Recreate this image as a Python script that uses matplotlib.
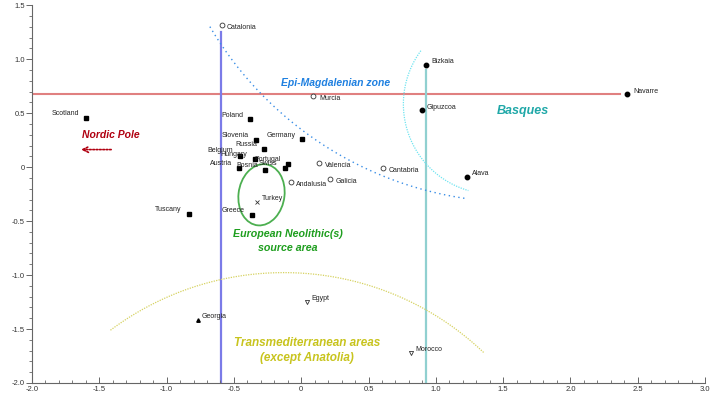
import numpy as np
import matplotlib
matplotlib.use('Agg')
import matplotlib.pyplot as plt
from matplotlib.patches import Ellipse
from matplotlib.ticker import MultipleLocator, FuncFormatter

plt.rcParams['font.family'] = ['Liberation Sans', 'DejaVu Sans']

# populations, by marker group
sq_names = ['Scotland', 'Poland', 'Slovenia', 'Russia', 'Germany', 'Belgium', 'Hungary',
            'Portugal', 'Austria', 'Bosnia', 'Swiss', 'Greece', 'Tuscany']
sq_x = [-1.60, -0.377, -0.338, -0.273, 0.007, -0.453, -0.347, -0.099, -0.461, -0.270, -0.123, -0.369, -0.837]
sq_y = [0.46, 0.444, 0.253, 0.172, 0.259, 0.107, 0.077, 0.033, -0.006, -0.022, -0.009, -0.439, -0.435]

iber_names = ['Catalonia', 'Murcia', 'Valencia', 'Andalusia', 'Galicia', 'Cantabria']
iber_x = [-0.592, 0.091, 0.134, -0.077, 0.213, 0.611]
iber_y = [1.318, 0.663, 0.040, -0.136, -0.111, -0.009]

basq_names = ['Bizkaia', 'Gipuzcoa', 'Navarre', 'Alava']
basq_x = [0.929, 0.894, 2.424, 1.231]
basq_y = [0.95, 0.531, 0.676, -0.087]

turkey = (-0.325, -0.324)
georgia = (-0.768, -1.414)
down_names = ['Egypt', 'Morocco']
down_x = [0.045, 0.817]
down_y = [-1.25, -1.722]

fig = plt.figure(figsize=(7.15, 3.98), dpi=100)
ax = fig.add_axes([0.0448, 0.0377, 0.9412, 0.949])
ax.set_xlim(-2.0, 3.0)
ax.set_ylim(-2.0, 1.5)

for s in ['top', 'right']:
    ax.spines[s].set_visible(False)
for s in ['left', 'bottom']:
    ax.spines[s].set_color('#666666')
    ax.spines[s].set_linewidth(0.8)

ax.xaxis.set_major_locator(MultipleLocator(0.5))
ax.xaxis.set_minor_locator(MultipleLocator(0.1))
ax.yaxis.set_major_locator(MultipleLocator(0.5))
ax.yaxis.set_minor_locator(MultipleLocator(0.1))
fmt = FuncFormatter(lambda v, p: '0' if abs(v) < 1e-9 else f'{v:.1f}')
ax.xaxis.set_major_formatter(fmt)
ax.yaxis.set_major_formatter(fmt)
ax.tick_params(axis='x', which='major', direction='in', length=4, width=0.7, colors='#666666',
               labelsize=5.5, labelcolor='#333333', pad=2)
ax.tick_params(axis='x', which='minor', direction='in', length=2, width=0.6, colors='#666666')
ax.tick_params(axis='y', which='major', direction='out', length=4, width=0.7, colors='#666666',
               labelsize=5.5, labelcolor='#333333', pad=1)
ax.tick_params(axis='y', which='minor', direction='out', length=2, width=0.6, colors='#666666')

# reference lines
ax.plot([-2.0, 2.37], [0.679, 0.679], color='#e08080', lw=1.5, zorder=1)
ax.plot([-0.597, -0.597], [1.25, -2.0], color='#7b7be8', lw=1.6, zorder=1)
ax.plot([0.929, 0.929], [0.90, -2.0], color='#90d0d0', lw=1.6, zorder=1)


def arc(cx, cy, rx, ry, t1, t2, **kw):
    t = np.radians(np.linspace(t1, t2, 200))
    ax.plot(cx + rx * np.cos(t), cy + ry * np.sin(t), **kw)


arc(1.6055, 2.979, 2.651, 3.304, 210.5, 262.0, color='#3a8ee6', lw=1.0, ls=(0, (1, 2.5)))
arc(1.429, 0.585, 0.670, 0.835, 143.7, 253.8, color='#6ee4f0', lw=0.9, ls=(0, (1, 1)))
arc(-0.129, -3.659, 2.152, 2.682, 46.4, 126.8, color='#d6d260', lw=0.9, ls=(0, (1, 1)))
ax.add_patch(Ellipse((-0.295, -0.256), 0.342, 0.569, angle=-5, fill=False,
                     ec='#4caf50', lw=1.3))

# markers
ax.plot(sq_x, sq_y, 's', color='black', ms=3.2, ls='none')
ax.plot(iber_x, iber_y, 'o', mfc='white', mec='#333333', mew=0.6, ms=3.5, ls='none')
ax.plot(basq_x, basq_y, 'o', color='black', ms=3.2, ls='none')
ax.plot(*turkey, 'x', color='#333333', ms=2.5, mew=0.6)
ax.plot(*georgia, '^', color='black', ms=2.5)
ax.plot(down_x, down_y, 'v', mfc='white', mec='#333333', mew=0.6, ms=3, ls='none')

lab = dict(fontsize=5, color='#222222', textcoords='offset points', va='center')
for n, x, y in zip(sq_names, sq_x, sq_y):
    dy = 4 if n == 'Belgium' else 3
    ax.annotate(n, (x, y), xytext=(-5, dy), ha='right', **lab)
for n, x, y in zip(iber_names, iber_x, iber_y):
    ax.annotate(n, (x, y), xytext=(4, -2), ha='left', **lab)
for n, x, y in zip(basq_names, basq_x, basq_y):
    ax.annotate(n, (x, y), xytext=(4, 2), ha='left', **lab)
ax.annotate('Turkey', turkey, xytext=(3, 2.5), ha='left', **lab)
ax.annotate('Georgia', georgia, xytext=(3, 2.5), ha='left', **lab)
for n, x, y in zip(down_names, down_x, down_y):
    ax.annotate(n, (x, y), xytext=(3, 2.5), ha='left', **lab)

# zone captions
big = dict(fontweight='bold', style='italic', ha='center', va='center')
ax.text(0.253, 0.778, 'Epi-Magdalenian zone', color='#1f80e0', fontsize=7.5, **big)
ax.text(1.649, 0.521, 'Basques', color='#20a8a8', fontsize=9, **big)
ax.text(-0.100, -0.683, 'European Neolithic(s)\nsource area', color='#1e9e1e',
        fontsize=7.7, linespacing=1.5, **big)
ax.text(0.045, -1.70, 'Transmediterranean areas\n(except Anatolia)', color='#c8c41e',
        fontsize=8.5, linespacing=1.3, **big)
ax.text(-1.627, 0.299, 'Nordic Pole', color='#b00010', fontsize=7.5, fontweight='bold',
        style='italic', ha='left', va='center')
ax.annotate('', xy=(-1.636, 0.163), xytext=(-1.412, 0.163),
            arrowprops=dict(arrowstyle='->', color='#b00010', lw=1.2, ls=(0, (1, 1)),
                            shrinkA=0, shrinkB=0))

fig.savefig('out.png', dpi=100)
